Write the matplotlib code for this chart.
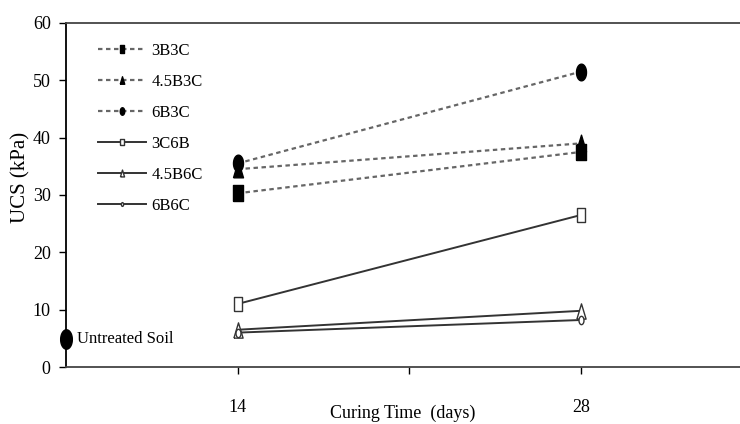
import numpy as np
import matplotlib.pyplot as plt

plt.rcParams['font.family'] = ['Liberation Serif', 'DejaVu Serif']

# data
days = [14, 28]
labels = ['3B3C', '4.5B3C', '6B3C', '3C6B', '4.5B6C', '6B6C']
ucs_3b3c = [30.3, 37.5]
ucs_45b3c = [34.5, 39.0]
ucs_6b3c = [35.5, 51.5]
ucs_3c6b = [11.0, 26.5]
ucs_45b6c = [6.5, 9.8]
ucs_6b6c = [6.0, 8.2]
untreated_x = 7
untreated_ucs = 4.9

# tall markers (the original figure looks squeezed sideways)
sq = [(-0.55, -1), (0.55, -1), (0.55, 1), (-0.55, 1), (-0.55, -1)]
t = np.linspace(0, 2 * np.pi, 40)
ell = list(zip(0.6 * np.cos(t), np.sin(t)))
tri = [(-0.6, -1), (0.6, -1), (0, 1), (-0.6, -1)]

fig = plt.figure(figsize=(7.4, 4.24), dpi=100)
ax = fig.add_axes([0.0892, 0.1344, 0.9108, 0.8114])

dash = dict(ls=(0, (2, 1.6)), color='#666666', lw=1.6, mfc='black', mec='black')
solid = dict(ls='-', color='#333333', lw=1.4, mfc='white', mec='#333333')

ax.plot(days, ucs_3b3c, marker=sq, ms=12, label=labels[0], **dash)
ax.plot(days, ucs_45b3c, marker=tri, ms=12, label=labels[1], **dash)
ax.plot(days, ucs_6b3c, marker=ell, ms=12, label=labels[2], **dash)
ax.plot(days, ucs_3c6b, marker=sq, ms=10, label=labels[3], **solid)
ax.plot(days, ucs_45b6c, marker=tri, ms=11, label=labels[4], **solid)
ax.plot(days, ucs_6b6c, marker=ell, ms=6, label=labels[5], **solid)

ax.plot([untreated_x], [untreated_ucs], marker=ell, ms=14, color='black', clip_on=False, zorder=5)
ax.text(untreated_x + 0.45, untreated_ucs, 'Untreated Soil', fontsize=12, va='center')

ax.set_xlim(7, 34.5)
ax.set_ylim(0, 60)
ax.set_xticks([14, 21, 28])
ax.set_xticklabels(['14', '', '28'])
ax.set_yticks(range(0, 61, 10))
ax.tick_params(labelsize=13, length=5, width=1)
ax.tick_params(axis='x', pad=18)
ax.tick_params(axis='y', pad=6)
ax.spines['right'].set_visible(False)
for s in ['left', 'top', 'bottom']:
    ax.spines[s].set_linewidth(1.3)
ax.spines['bottom'].set_color('#444444')
ax.spines['top'].set_color('#444444')

ax.set_xlabel('Curing Time  (days)', fontsize=13)
ax.xaxis.set_label_coords(0.5, -0.11)
ax.set_ylabel('UCS (kPa)', fontsize=15)
ax.yaxis.set_label_coords(-0.052, 0.55)

leg = ax.legend(loc='upper left', frameon=False, fontsize=12, handlelength=2.9,
                labelspacing=0.9, bbox_to_anchor=(0.025, 0.985), handletextpad=0.3,
                markerscale=0.45)

plt.savefig('out.png', dpi=100)
